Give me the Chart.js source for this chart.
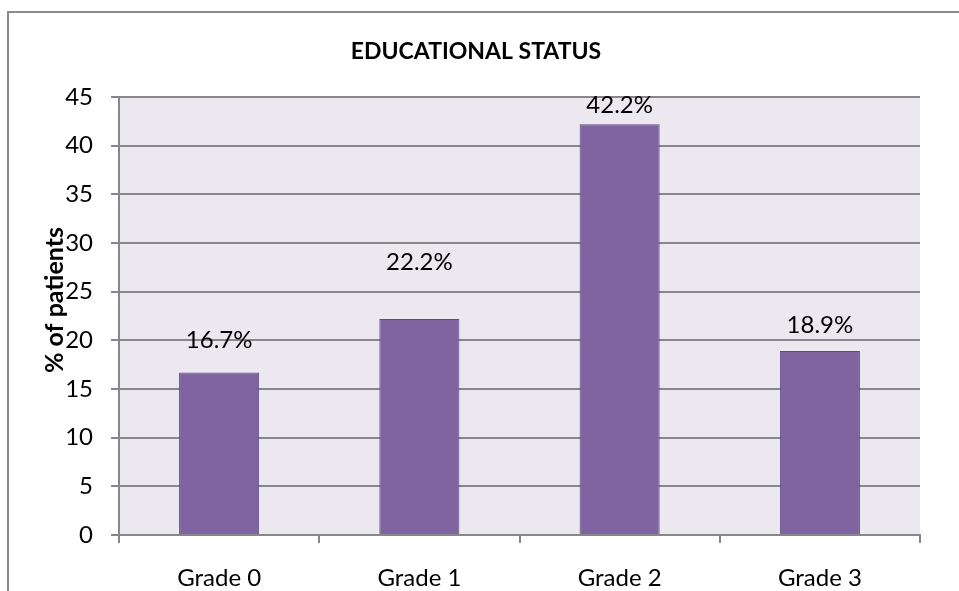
<!DOCTYPE html>
<html>
<head>
<meta charset="utf-8">
<script src="https://cdn.jsdelivr.net/npm/chart.js@4"></script>
<style>
    body { margin: 0; background: #ffffff; }
    .marco {
        position: absolute; left: 7px; top: 11px; width: 1000px; height: 700px;
        border-left: 2px solid #8a8a8a; border-top: 2px solid #8a8a8a;
    }
    .lienzo { position: absolute; left: 0; top: 0; width: 959px; height: 591px; }
</style>
</head>
<body>
<div class="marco"></div>
<div class="lienzo"><canvas id="grafico" width="959" height="591"></canvas></div>
<script>
const categorias = ['Grade 0', 'Grade 1', 'Grade 2', 'Grade 3'];
const porcentajes = [16.7, 22.2, 42.2, 18.9];
const etiquetas = ['16.7%', '22.2%', '42.2%', '18.9%'];
const tituloGrafico = 'EDUCATIONAL STATUS';
const tituloEjeY = '% of patients';

// distance of each label above its bar (labels were moved by hand in the original)
const desplazEtiqueta = [32, 57, 19, 26];

const fondoArea = {
    id: 'fondoArea',
    beforeDraw(chart) {
        const { ctx, chartArea } = chart;
        ctx.save();
        ctx.fillStyle = '#ebe9ef';
        ctx.fillRect(chartArea.left, chartArea.top, chartArea.right - chartArea.left, chartArea.bottom - chartArea.top);
        ctx.restore();
    }
};

const textos = {
    id: 'textos',
    afterDatasetsDraw(chart) {
        const { ctx } = chart;
        const meta = chart.getDatasetMeta(0);
        ctx.save();
        ctx.fillStyle = '#000000';
        ctx.textAlign = 'center';
        ctx.textBaseline = 'middle';
        // chart title, centred on the whole frame like in Excel
        ctx.font = 'bold 23px Lato';
        ctx.fillText(tituloGrafico, 476, 52);
        ctx.font = '24px Lato';
        meta.data.forEach((barra, i) => {
            ctx.fillText(etiquetas[i], barra.x, barra.y - desplazEtiqueta[i]);
        });
        // y axis title
        ctx.translate(55, 300);
        ctx.rotate(-Math.PI / 2);
        ctx.font = 'bold 25px Lato';
        ctx.fillText(tituloEjeY, 0, 0);
        ctx.restore();
    }
};

new Chart(document.getElementById('grafico'), {
    type: 'bar',
    data: {
        labels: categorias,
        datasets: [{
            data: porcentajes,
            backgroundColor: '#8064a2',
            borderColor: '#5c4a80',
            borderWidth: 1,
            barPercentage: 0.4,
            categoryPercentage: 1
        }]
    },
    options: {
        responsive: false,
        animation: false,
        layout: { padding: { left: 0, right: 39, top: 97, bottom: 0 } },
        plugins: {
            legend: { display: false },
            tooltip: { enabled: false },
            title: { display: false }
        },
        scales: {
            x: {
                afterFit(escala) { escala.height = 56; },
                grid: {
                    display: true,
                    drawOnChartArea: false,
                    drawTicks: true,
                    tickLength: 8,
                    offset: true,
                    color: '#878787',
                    lineWidth: 2
                },
                border: { display: true, color: '#878787', width: 2 },
                ticks: {
                    color: '#000000',
                    font: { family: 'Lato', size: 24 },
                    padding: 21,
                    maxRotation: 0
                }
            },
            y: {
                min: 0,
                max: 45,
                afterFit(escala) { escala.width = 119; },
                grid: {
                    color: '#878787',
                    lineWidth: 2,
                    tickLength: 8
                },
                border: { display: true, color: '#878787', width: 2 },
                ticks: {
                    stepSize: 5,
                    color: '#000000',
                    font: { family: 'Lato', size: 24 },
                    padding: 18
                }
            }
        }
    },
    plugins: [fondoArea, textos]
});
</script>
</body>
</html>
